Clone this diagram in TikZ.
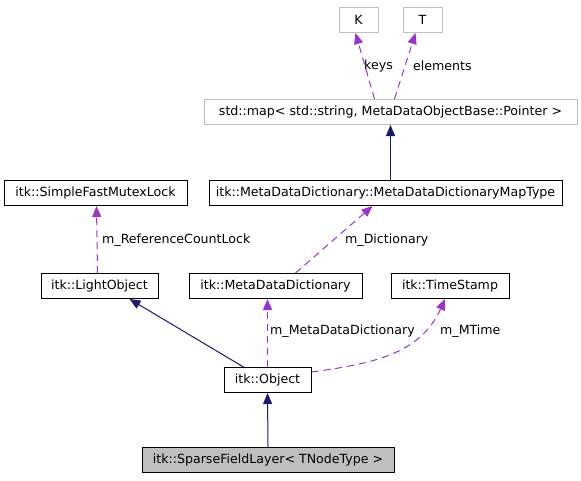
\documentclass[tikz,border=0pt]{standalone}
\usepackage{fontspec}
\setmainfont{DejaVu Sans}
\usetikzlibrary{arrows.meta,calc}
\definecolor{navyline}{HTML}{191970}
\definecolor{purp}{HTML}{9A32CD}
\definecolor{grayb}{HTML}{BFBFBF}
\tikzset{
  box/.style={draw=black,fill=white,line width=1pt,minimum height=25pt,inner sep=0pt,font=\fontsize{12.6}{15}\selectfont},
  gbox/.style={box,draw=grayb},
  hbox/.style={box,fill=grayb},
  inh/.style={draw=navyline,line width=1pt,-{Triangle[length=11pt,width=9pt]}},
  use/.style={draw=purp,line width=1pt,dash pattern=on 7pt off 5pt,-{Triangle[length=11pt,width=9pt]}},
  lbl/.style={font=\fontsize{12.6}{15}\selectfont,anchor=west,inner sep=0pt}
}
\begin{document}
\begin{tikzpicture}[x=1pt,y=-1pt]
\useasboundingbox (0,0) rectangle (581,480);
\node[gbox,minimum width=39pt] (K) at (358.5,20) {K};
\node[gbox,minimum width=39pt] (T) at (422.5,20) {T};
\node[gbox,minimum width=373pt] (map) at (390.5,112) {std::map< std::string, MetaDataObjectBase::Pointer >};
\node[box,minimum width=353pt] (mt) at (385.5,193) {itk::MetaDataDictionary::MetaDataDictionaryMapType};
\node[box,minimum width=183pt] (sfml) at (95.5,193) {itk::SimpleFastMutexLock};
\node[box,minimum width=117pt] (lo) at (99.5,286) {itk::LightObject};
\node[box,minimum width=173pt] (mdd) at (275.5,286) {itk::MetaDataDictionary};
\node[box,minimum width=118pt] (ts) at (450,286) {itk::TimeStamp};
\node[box,minimum width=87pt] (obj) at (267.5,380) {itk::Object};
\node[hbox,minimum width=252pt] (sfl) at (268,460) {itk::SparseFieldLayer< TNodeType >};

\draw[inh] (sfl.north) -- (obj.south);
\draw[inh] ([xshift=-24pt]obj.north) -- ([xshift=30pt]lo.south);
\draw[use] (obj.north) -- ([xshift=-8pt]mdd.south);
\node[lbl] (l1) at (270,331) {m\_MetaDataDictionary};
\draw[use] ([yshift=8pt]obj.east) .. controls (370,364) and (420,355) .. ([xshift=-5pt]ts.south);
\node[lbl] (l2) at (440,331) {m\_MTime};
\draw[use] ([xshift=20pt]mdd.north) -- ([xshift=-13pt]mt.south);
\node[lbl] (l3) at (345,240) {m\_Dictionary};
\draw[use] ([xshift=-2pt]lo.north) -- ([xshift=1pt]sfml.south);
\node[lbl] (l4) at (102,240) {m\_ReferenceCountLock};
\draw[inh] ([xshift=5pt]mt.north) -- (map.south);
\draw[use] ([xshift=-16pt]map.north) -- ([xshift=-3pt]K.south);
\node[lbl] (l5) at (364,66) {keys};
\draw[use] ([xshift=4pt]map.north) -- ([xshift=-7pt]T.south);
\node[lbl] (l6) at (413,66) {elements};
\end{tikzpicture}
\end{document}
